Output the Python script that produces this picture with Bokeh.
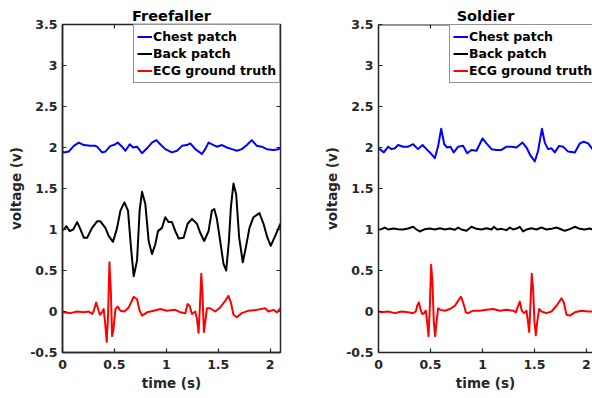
import math
from bokeh.plotting import figure
from bokeh.models import Range1d, FixedTicker, Legend, LegendItem, Span
from bokeh.layouts import row
from bokeh.embed import file_html
from bokeh.resources import INLINE

FONT = "DejaVu Sans"
AX = "#262626"

# ---------------- data (time s, voltage v) ----------------
titles = ["Freefaller", "Soldier"]
series_labels = ["Chest patch", "Back patch", "ECG ground truth"]
series_colors = ["#0000ff", "#000000", "#ff0000"]
x_ticks = [0, 0.5, 1, 1.5, 2]
x_tick_labels = ["0", "0.5", "1", "1.5", "2"]
y_ticks = [-0.5, 0, 0.5, 1, 1.5, 2, 2.5, 3, 3.5]
y_tick_labels = ["-0.5", "0", "0.5", "1", "1.5", "2", "2.5", "3", "3.5"]

ff_chest = [(0.0,1.95),(0.013,1.94),(0.06,1.95),(0.109,2.02),(0.157,2.06),(0.205,2.03),(0.269,2.02),
            (0.317,2.02),(0.333,2.01),(0.381,1.94),(0.413,1.95),(0.462,2.02),(0.494,2.03),(0.532,2.06),
            (0.574,2.01),(0.606,1.96),(0.648,2.04),(0.68,2.0),(0.718,2.01),(0.766,1.93),(0.814,1.99),
            (0.862,2.06),(0.904,2.09),(0.942,2.04),(0.99,1.98),(1.054,1.94),(1.103,1.96),(1.151,2.02),
            (1.199,2.03),(1.231,2.05),(1.279,1.98),(1.343,1.92),(1.375,1.98),(1.407,2.06),(1.455,2.03),
            (1.487,2.01),(1.536,2.03),(1.584,2.0),(1.632,1.98),(1.68,1.96),(1.728,1.98),(1.776,2.03),
            (1.824,2.09),(1.872,2.02),(1.92,2.01),(1.968,1.98),(2.032,1.97),(2.08,1.98),(2.1,2.0)]

ff_back = [(0.0,1.0),(0.013,1.0),(0.038,1.04),(0.07,0.98),(0.103,1.0),(0.141,1.09),(0.167,1.02),
           (0.205,0.90),(0.237,0.90),(0.285,1.02),(0.333,1.10),(0.365,1.10),(0.413,1.02),(0.446,0.92),
           (0.487,0.85),(0.526,1.02),(0.558,1.23),(0.596,1.33),(0.631,1.23),(0.66,0.78),(0.686,0.43),
           (0.718,0.62),(0.743,1.23),(0.766,1.46),(0.798,1.31),(0.83,0.86),(0.862,0.70),(0.894,0.82),
           (0.92,0.98),(0.958,1.02),(0.99,1.15),(1.022,1.09),(1.054,1.09),(1.087,0.98),(1.119,0.89),
           (1.167,0.90),(1.205,1.07),(1.247,1.13),(1.295,1.07),(1.327,0.96),(1.365,0.86),(1.407,0.98),
           (1.439,1.23),(1.462,1.25),(1.487,1.13),(1.519,0.86),(1.551,0.58),(1.577,0.50),(1.603,0.86),
           (1.622,1.27),(1.647,1.56),(1.673,1.43),(1.702,0.90),(1.737,0.60),(1.769,0.80),(1.801,1.02),
           (1.84,1.15),(1.897,1.20),(1.936,1.07),(1.974,0.90),(2.006,0.80),(2.048,0.92),(2.1,1.07)]

ff_ecg = [(0.0,0.0),(0.013,-0.01),(0.077,-0.02),(0.141,0.0),(0.205,-0.01),(0.253,0.0),(0.285,-0.03),
          (0.301,0.01),(0.324,0.11),(0.343,0.03),(0.359,-0.04),(0.381,-0.01),(0.397,0.03),(0.41,-0.13),
          (0.426,-0.37),(0.439,-0.05),(0.452,0.60),(0.465,0.27),(0.478,-0.30),(0.49,-0.22),(0.51,0.03),
          (0.532,0.06),(0.558,0.01),(0.596,0.0),(0.638,0.05),(0.686,0.18),(0.718,0.15),(0.743,0.01),
          (0.766,-0.05),(0.814,-0.01),(0.878,0.01),(0.942,0.03),(1.006,0.01),(1.087,0.02),(1.135,-0.01),
          (1.183,-0.02),(1.205,0.09),(1.224,0.07),(1.247,-0.03),(1.279,0.0),(1.295,-0.09),(1.311,-0.26),
          (1.324,0.07),(1.337,0.46),(1.349,0.19),(1.362,-0.25),(1.375,-0.13),(1.391,0.04),(1.423,0.04),
          (1.471,0.0),(1.519,0.05),(1.567,0.13),(1.599,0.19),(1.622,0.11),(1.647,-0.04),(1.679,-0.07),
          (1.727,-0.02),(1.791,0.01),(1.872,0.02),(1.952,0.04),(1.984,0.0),(2.033,0.02),(2.066,-0.01),
          (2.1,0.04)]

so_chest = [(0.0,1.98),(0.013,1.98),(0.051,1.94),(0.093,2.01),(0.125,1.98),(0.157,1.99),(0.189,2.03),
            (0.237,2.01),(0.285,2.01),(0.333,2.04),(0.381,1.98),(0.423,2.03),(0.462,1.98),(0.494,1.94),
            (0.542,1.87),(0.574,2.02),(0.603,2.23),(0.632,2.04),(0.66,2.0),(0.692,2.01),(0.724,1.94),
            (0.766,2.01),(0.814,2.02),(0.853,1.93),(0.894,1.97),(0.942,1.96),(1.0,2.11),(1.038,2.05),
            (1.087,1.98),(1.135,1.97),(1.183,1.97),(1.231,2.01),(1.279,2.01),(1.327,2.0),(1.385,2.06),
            (1.423,2.0),(1.462,1.90),(1.503,1.83),(1.535,1.96),(1.572,2.23),(1.599,2.06),(1.631,1.98),
            (1.663,1.99),(1.695,1.94),(1.737,2.02),(1.776,2.01),(1.824,1.95),(1.888,1.94),(1.936,2.05),
            (1.974,2.07),(2.016,2.05),(2.058,1.98),(2.1,1.96)]

so_back = [(0.0,1.0),(0.029,1.004),(0.061,1.024),(0.093,1.0),(0.141,1.012),(0.189,1.004),(0.237,1.0),
           (0.285,1.012),(0.333,1.033),(0.365,1.0),(0.397,0.976),(0.446,1.004),(0.494,1.012),(0.542,1.0),
           (0.59,1.016),(0.638,1.0),(0.686,1.012),(0.734,0.996),(0.766,1.024),(0.798,1.0),(0.846,0.984),
           (0.894,1.033),(0.942,1.008),(0.99,1.0),(1.038,1.016),(1.087,1.0),(1.109,1.033),(1.141,1.0),
           (1.183,1.008),(1.231,0.992),(1.263,1.024),(1.295,1.0),(1.327,1.012),(1.359,1.033),(1.391,0.976),
           (1.423,1.0),(1.471,1.016),(1.519,1.0),(1.567,1.024),(1.615,1.0),(1.663,1.008),(1.712,1.024),
           (1.76,1.0),(1.792,0.984),(1.84,1.004),(1.888,1.033),(1.936,1.008),(1.984,1.0),(2.032,1.012),
           (2.058,1.0),(2.1,1.0)]

so_ecg = [(0.0,0.0),(0.029,-0.01),(0.093,0.0),(0.157,-0.02),(0.221,0.0),(0.285,-0.01),(0.333,-0.02),
          (0.359,0.0),(0.372,0.07),(0.388,0.11),(0.404,0.03),(0.42,-0.03),(0.439,-0.02),(0.455,0.01),
          (0.468,-0.13),(0.481,-0.30),(0.494,0.07),(0.506,0.57),(0.519,0.35),(0.532,-0.13),(0.545,-0.30),
          (0.558,-0.13),(0.574,0.04),(0.596,0.02),(0.638,0.01),(0.686,0.03),(0.734,0.07),(0.766,0.13),
          (0.792,0.18),(0.814,0.11),(0.84,-0.01),(0.862,-0.02),(0.91,0.01),(0.974,0.01),(1.038,0.02),
          (1.103,0.03),(1.167,0.01),(1.231,0.02),(1.295,0.01),(1.321,-0.01),(1.343,0.07),(1.359,0.12),
          (1.378,0.01),(1.4,-0.02),(1.423,0.01),(1.436,-0.11),(1.449,-0.25),(1.462,0.11),(1.474,0.46),
          (1.487,0.27),(1.5,-0.13),(1.513,-0.29),(1.526,-0.13),(1.545,0.03),(1.567,0.0),(1.615,-0.02),
          (1.663,0.0),(1.712,0.07),(1.76,0.16),(1.782,0.11),(1.808,-0.04),(1.84,-0.05),(1.888,-0.01),
          (1.952,0.01),(2.016,0.0),(2.058,0.0),(2.1,0.0)]

Y_MIN, Y_MAX = -0.5, 3.5

panels = [
    dict(title=titles[0], data=[ff_chest, ff_back, ff_ecg], xmax=2.1, width=300, left=62, right=20, box=True),
    dict(title=titles[1], data=[so_chest, so_back, so_ecg], xmax=2.058, width=292, left=78, right=0, box=False),
]

figs = []
for pn in panels:
    p = figure(width=pn["width"], height=398, output_backend="svg", toolbar_location=None,
               x_range=Range1d(0, pn["xmax"]), y_range=Range1d(Y_MIN, Y_MAX),
               min_border_left=pn["left"], min_border_right=pn["right"],
               min_border_top=24, min_border_bottom=46,
               x_axis_label="time (s)", y_axis_label="voltage (v)")
    p.grid.visible = False
    p.background_fill_color = "white"
    p.border_fill_color = "white"
    if pn["box"]:
        p.outline_line_color = AX
        p.outline_line_width = 1.5
        p.outline_line_alpha = 1
    else:
        p.outline_line_color = None
        p.add_layout(Span(location=Y_MAX, dimension="width", line_color=AX, line_width=2))

    # title
    p.title.text = pn["title"]
    p.title.align = "center"
    p.title.text_font = FONT
    p.title.text_font_style = "bold"
    p.title.text_font_size = "14.5px"
    p.title.text_color = "#000000"
    p.title.standoff = 2
    p.title.offset = 0

    for ax in (p.xaxis[0], p.yaxis[0]):
        ax.axis_line_color = AX
        ax.axis_line_width = 1.5
        ax.major_tick_line_color = AX
        ax.major_tick_line_width = 1.2
        ax.major_tick_in = 4
        ax.major_tick_out = 0
        ax.minor_tick_line_color = None
        ax.major_label_text_font = FONT
        ax.major_label_text_font_style = "bold"
        ax.major_label_text_font_size = "12.5px"
        ax.major_label_text_color = AX
        ax.axis_label_text_font = FONT
        ax.axis_label_text_font_style = "bold"
        ax.axis_label_text_font_size = "13.5px"
        ax.axis_label_text_color = AX
    p.xaxis.ticker = FixedTicker(ticks=x_ticks)
    p.xaxis.major_label_overrides = dict(zip(x_ticks, x_tick_labels))
    p.yaxis.ticker = FixedTicker(ticks=y_ticks)
    p.yaxis.major_label_overrides = dict(zip(y_ticks, y_tick_labels))
    p.xaxis.major_label_standoff = 7
    p.xaxis.axis_label_standoff = 3
    p.yaxis.major_label_standoff = 5
    p.yaxis.axis_label_standoff = 3

    # inward ticks on the top edge (and right edge when the box is closed)
    p.ray(x=x_ticks, y=[Y_MAX] * len(x_ticks), length=4, length_units="screen",
          angle=-math.pi / 2, line_color=AX, line_width=1.2)
    if pn["box"]:
        p.ray(x=[pn["xmax"]] * len(y_ticks), y=y_ticks, length=4, length_units="screen",
              angle=math.pi, line_color=AX, line_width=1.2)

    items = []
    for d, lab, col in zip(pn["data"], series_labels, series_colors):
        xs = [a for a, b in d]
        ys = [b for a, b in d]
        r = p.line(xs, ys, line_color=col, line_width=2, line_join="round")
        items.append(LegendItem(label=lab, renderers=[r]))

    leg = Legend(items=items, location=(71, 269))
    leg.label_text_font = FONT
    leg.label_text_font_style = "bold"
    leg.label_text_font_size = "12.5px"
    leg.label_text_color = "#000000"
    leg.glyph_width = 15
    leg.glyph_height = 17
    leg.label_height = 17
    leg.label_standoff = 1
    leg.padding = 3
    leg.spacing = 0
    leg.margin = 0
    leg.border_line_color = AX
    leg.border_line_width = 1.2
    leg.background_fill_color = "white"
    leg.background_fill_alpha = 1
    p.add_layout(leg)
    figs.append(p)

layout = row(*figs)
open("out.html", "w").write(file_html(layout, INLINE))
